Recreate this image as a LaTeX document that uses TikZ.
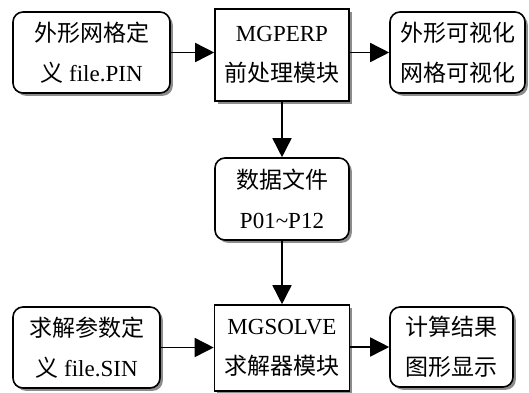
\documentclass[tikz,border=0pt]{standalone}
\usepackage{fontspec}
\setmainfont{Liberation Serif}
\newfontfamily\cjk{Noto Sans CJK SC}
\usepackage{tikz}
\usetikzlibrary{arrows.meta, positioning, shadows, calc}

\definecolor{shadowgray}{HTML}{8C8C8C}

\tikzset{
  flowbox/.style={draw=black, line width=0.8pt, fill=white, align=center,
    inner sep=0pt, font=\fontsize{11.5}{20}\selectfont,
    drop shadow={shadow xshift=1.4pt, shadow yshift=-1.4pt, fill=shadowgray, opacity=1}},
  filebox/.style={flowbox, rounded corners=5pt},
  modbox/.style={flowbox},
  flowarrow/.style={-{Triangle[length=9.5pt, width=9.5pt]}, line width=0.8pt}
}

\begin{document}
\begin{tikzpicture}[x=0.5pt, y=-0.5pt]
        \useasboundingbox (0,0) rectangle (529,392);
        % Preprocessing
        \node[filebox, minimum width=78.5pt, minimum height=40.5pt] (pin) at (91.5, 52.5)
          {{\cjk 外形网格定}\\{\cjk 义} file.PIN};
        \node[modbox, minimum width=67pt, minimum height=46pt] (perp) at (282, 55)
          {MGPERP\\{\cjk 前处理模块}};
        \node[filebox, minimum width=67.5pt, minimum height=40.5pt] (vis) at (457.5, 52.5)
          {{\cjk 外形可视化}\\{\cjk 网格可视化}};
        % Data files
        \node[filebox, minimum width=67pt, minimum height=41pt] (data) at (282, 199)
          {{\cjk 数据文件}\\P01\char`~P12};
        % Solver
        \node[filebox, minimum width=73.5pt, minimum height=40.5pt] (sin) at (86.5, 347.5)
          {{\cjk 求解参数定}\\{\cjk 义} file.SIN};
        \node[modbox, minimum width=67.5pt, minimum height=43pt] (solve) at (282, 348)
          {MGSOLVE\\{\cjk 求解器模块}};
        \node[filebox, minimum width=61.5pt, minimum height=40pt] (res) at (451.5, 347)
          {{\cjk 计算结果}\\{\cjk 图形显示}};
        % Connectors
        \draw[flowarrow] (pin.east) -- (pin.east -| perp.west);
        \draw[flowarrow] (perp.east |- vis.west) -- (vis.west);
        \draw[flowarrow] (perp.south) -- (data.north);
        \draw[flowarrow] (data.south) -- (solve.north);
        \draw[flowarrow] (sin.east) -- (sin.east -| solve.west);
        \draw[flowarrow] (solve.east |- res.west) -- (res.west);
      \end{tikzpicture}
\end{document}
